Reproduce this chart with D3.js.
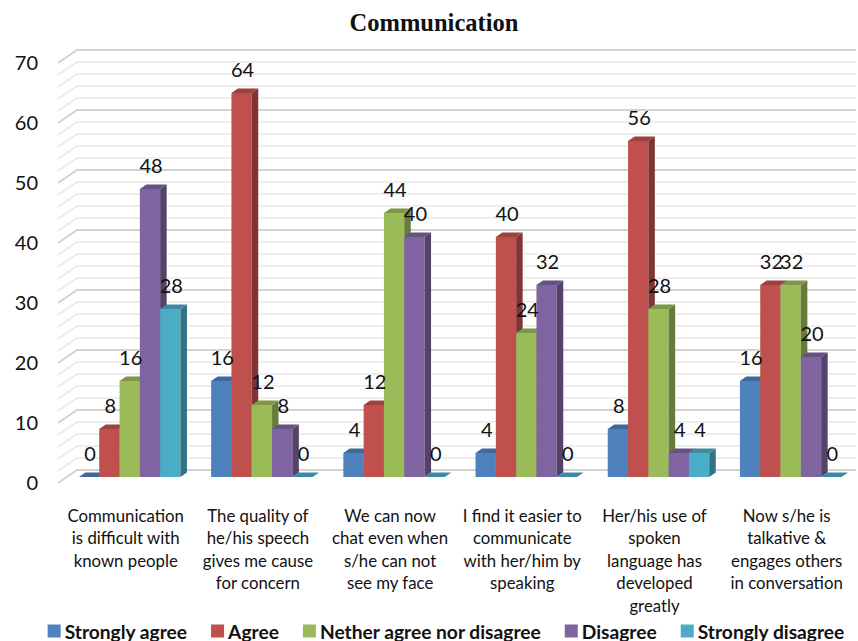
<!DOCTYPE html>
<html>
<head>
<meta charset="utf-8">
<script src="https://cdn.jsdelivr.net/npm/d3@7"></script>
<style>
  html, body { margin: 0; padding: 0; background: #fff; }
  svg { display: block; }
</style>
</head>
<body>
<svg id="chart" width="858" height="641"></svg>
<script>
// Survey responses, "Communication" section
const categories = [
  ["Communication", "is difficult with", "known people"],
  ["The quality of", "he/his speech", "gives me cause", "for concern"],
  ["We can now", "chat even when", "s/he can not", "see my face"],
  ["I find it easier to", "communicate", "with her/him by", "speaking"],
  ["Her/his use of", "spoken", "language has", "developed", "greatly"],
  ["Now s/he is", "talkative &", "engages others", "in conversation"]
];
const seriesNames = ["Strongly agree", "Agree", "Nether agree nor disagree", "Disagree", "Strongly disagree"];
const stronglyAgree    = [0, 16, 4, 4, 8, 16];
const agree            = [8, 64, 12, 40, 56, 32];
const neither          = [16, 12, 44, 24, 28, 32];
const disagree         = [48, 8, 40, 32, 4, 20];
const stronglyDisagree = [28, 0, 0, 0, 4, 0];
const seriesValues = [stronglyAgree, agree, neither, disagree, stronglyDisagree];
const seriesColors = ["#4f81bd", "#c0504d", "#9bbb59", "#8064a2", "#4bacc6"];
const yTicks = [0, 10, 20, 30, 40, 50, 60, 70];

const svg = d3.select("#chart");
const font = "Lato, 'Open Sans', sans-serif";

const y = d3.scaleLinear().domain([0, 70]).range([477, 57]);
const x0 = d3.scaleBand().domain(d3.range(categories.length))
  .range([63.6, 856.8]).paddingInner(0.232).paddingOuter(0.116);
const x1 = d3.scaleBand().domain(d3.range(seriesNames.length))
  .range([0, x0.bandwidth()]);

// 3D depth of the columns and of the back wall
const dx = 6.5, dy = -4.5;
const wallDx = 19, wallFront = 6, wallBack = -7;
const wallLeft = 58, plotRight = 856;

// Title
svg.append("text")
  .attr("x", 434).attr("y", 22)
  .attr("text-anchor", "middle").attr("dominant-baseline", "central")
  .attr("font-family", "'Liberation Serif', 'DejaVu Serif', serif")
  .attr("font-weight", "bold").attr("font-size", 24.5)
  .attr("fill", "#111")
  .text("Communication");

// Gridlines: minor every 2, major every 10, drawn on floor edge + back wall
const gridVals = d3.range(0, 71, 2);
const grid = svg.append("g");
gridVals.forEach(v => {
  const major = v % 10 === 0;
  const yy = y(v);
  grid.append("path")
    .attr("d", `M${wallLeft},${yy + wallFront}L${wallLeft + wallDx},${yy + wallBack}L${plotRight},${yy + wallBack}`)
    .attr("fill", "none")
    .attr("stroke", major ? "#d2d2d2" : "#e9e9e9")
    .attr("stroke-width", major ? 2 : 1.6);
});

// Y axis labels
svg.append("g").selectAll("text").data(yTicks).join("text")
  .attr("x", 38).attr("y", d => y(d) + 5)
  .attr("text-anchor", "end").attr("dominant-baseline", "central")
  .attr("font-family", font).attr("font-size", 20).attr("fill", "#111")
  .text(d => d);

// Columns
const bars = svg.append("g");
categories.forEach((cat, ci) => {
  seriesValues.forEach((vals, si) => {
    const v = vals[ci];
    const xl = x0(ci) + x1(si);
    const w = x1.bandwidth();
    const top = y(v), base = y(0);
    const c = d3.color(seriesColors[si]);
    const g = bars.append("g");
    if (v > 0) {
      g.append("rect").attr("x", xl).attr("y", top).attr("width", w).attr("height", base - top)
        .attr("fill", c.formatHex());
      g.append("path")
        .attr("d", `M${xl + w},${top}L${xl + w + dx},${top + dy}L${xl + w + dx},${base + dy}L${xl + w},${base}Z`)
        .attr("fill", c.darker(1.15).formatHex());
    }
    g.append("path")
      .attr("d", `M${xl},${top}L${xl + w},${top}L${xl + w + dx},${top + dy}L${xl + dx},${top + dy}Z`)
      .attr("fill", c.darker(0.6).formatHex());
  });
});

// Value labels
const labels = svg.append("g");
categories.forEach((cat, ci) => {
  seriesValues.forEach((vals, si) => {
    const v = vals[ci];
    labels.append("text")
      .attr("x", x0(ci) + x1(si) + x1.bandwidth() / 2 + 1)
      .attr("y", y(v) - 24)
      .attr("text-anchor", "middle").attr("dominant-baseline", "central")
      .attr("font-family", font).attr("font-size", 20).attr("fill", "#111")
      .text(v);
  });
});

// Category labels
const catG = svg.append("g");
categories.forEach((lines, ci) => {
  const t = catG.append("text")
    .attr("text-anchor", "middle")
    .attr("font-family", font).attr("font-size", 16.8).attr("fill", "#111");
  lines.forEach((ln, li) => {
    t.append("tspan")
      .attr("x", x0(ci) + x0.bandwidth() / 2 - 4)
      .attr("y", 515 + li * 22.6)
      .attr("dominant-baseline", "central")
      .text(ln);
  });
});

// Legend
const legend = svg.append("g");
const items = seriesNames.map((name, i) => {
  const g = legend.append("g");
  g.append("rect").attr("x", 0).attr("y", -6.5).attr("width", 13).attr("height", 13)
    .attr("fill", seriesColors[i]);
  const t = g.append("text").attr("x", 17).attr("y", 0)
    .attr("dominant-baseline", "central")
    .attr("font-family", font).attr("font-weight", "bold").attr("font-size", 19.2)
    .attr("fill", "#111").text(name);
  return { g, w: 17 + t.node().getComputedTextLength() };
});
const gap = 24;
const total = d3.sum(items, d => d.w) + gap * (items.length - 1);
let lx = 446 - total / 2;
items.forEach(it => {
  it.g.attr("transform", `translate(${lx},631)`);
  lx += it.w + gap;
});
</script>
</body>
</html>
